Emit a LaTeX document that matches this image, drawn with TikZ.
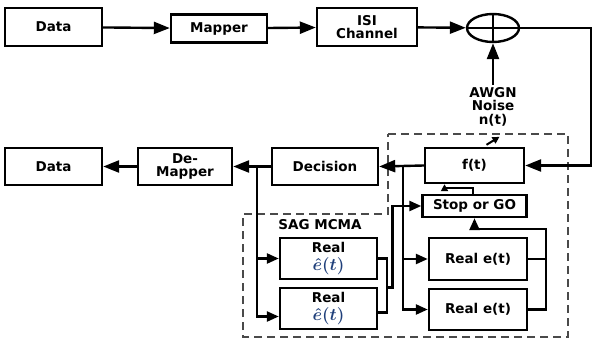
\documentclass[tikz,border=0pt]{standalone}
\usepackage{fontspec}
\setmainfont{DejaVu Sans}
\usetikzlibrary{arrows.meta,calc,shapes.geometric}
\definecolor{eqblue}{HTML}{1F3F7A}
\definecolor{dashgray}{HTML}{4A4A4A}
\newcommand{\ehat}{\textcolor{eqblue}{\fontsize{16}{16}\selectfont\boldmath$\hat{e}(t)$}}

\begin{document}
\begin{tikzpicture}[x=1pt,y=-1pt,
  box/.style={draw,line width=2.4pt,inner sep=1pt,align=center,font=\bfseries\fontsize{13.5}{13.5}\selectfont},
  lbl/.style={inner sep=2pt,align=center,font=\bfseries\fontsize{13.5}{13.5}\selectfont},
  wire/.style={line width=2.4pt},
  arr/.style={line width=2.4pt,-{Triangle[length=16pt,width=12pt]}},
  marr/.style={line width=2.4pt,-{Triangle[length=12pt,width=10pt]}},
  sarr/.style={line width=2pt,-{Triangle[length=7pt,width=7pt]}},
  dashbox/.style={dashgray,line width=1.5pt,dash pattern=on 8pt off 5pt}]
  \useasboundingbox (0,0) rectangle (595,340);

  \draw[dashbox] (388,134) -- (568,134) -- (568,337) -- (243,337) -- (243,214) -- (388,214) -- cycle;
  \node[lbl] (sag) at (320,225) {SAG MCMA};

  \node[box,minimum width=97pt,minimum height=38pt] (data1) at (53.5,27) {Data};
  \node[box,minimum width=96pt,minimum height=28pt] (mapper) at (219,28.5) {Mapper};
  \node[box,minimum width=100pt,minimum height=38pt] (isi) at (367,27) {ISI\\Channel};
  \node[draw,ellipse,line width=2.4pt,minimum width=52pt,minimum height=28pt,inner sep=0pt] (sum) at (493,28) {};
  \draw[wire] (sum.north) -- (sum.south) (sum.west) -- (sum.east);
  \node[lbl,anchor=north] (awgn) at (493,85) {AWGN\\Noise\\n(t)};

  \node[box,minimum width=97pt,minimum height=37pt] (data2) at (53.5,166.5) {Data};
  \node[box,minimum width=94pt,minimum height=37pt] (demap) at (185,166.5) {De-\\Mapper};
  \node[box,minimum width=106pt,minimum height=37pt] (decision) at (325,166.5) {Decision};
  \node[box,minimum width=99pt,minimum height=35pt] (ft) at (474.5,165.5) {f(t)};
  \node[box,minimum width=104pt,minimum height=22pt] (stop) at (474.5,206) {Stop or GO};

  \node[box,minimum width=97pt,minimum height=41pt] (rh1) at (328.5,258.5) {Real\\[4pt]\ehat};
  \node[box,minimum width=97pt,minimum height=41pt] (rh2) at (328.5,308.5) {Real\\[4pt]\ehat};
  \node[box,minimum width=98pt,minimum height=42pt] (re1) at (478,259) {Real e(t)};
  \node[box,minimum width=98pt,minimum height=41pt] (re2) at (478,309.5) {Real e(t)};

  \coordinate (jl) at ($(decision.west)+(-14,0)$);
  \coordinate (jr) at ($(ft.west)+(-21,0)$);
  \coordinate (mh) at ($(rh1.east)+(9,29)$);
  \coordinate (rr) at ($(re1.east)+(18,-30)$);

  \draw[arr] (data1) -- (mapper);
  \draw[arr] (mapper) -- (isi);
  \draw[arr] (isi) -- (sum);
  \draw[arr] (awgn.north) -- (sum.south);
  \draw[arr] (sum.east) -| ($(ft.east)+(66,0)$) -- (ft.east);

  \draw[arr] (ft.west) -- (decision.east);
  \draw[arr] (decision.west) -- (demap.east);
  \draw[arr] (demap.west) -- (data2.east);

  \draw[marr] (jl) |- (rh1.west);
  \draw[marr] (jl) |- ($(rh2.west)+(0,8)$);
  \draw[wire] (rh1.east) -| (mh);
  \draw[wire] ($(rh2.east)+(0,4)$) -| (mh);
  \draw[marr] (mh) -| ($(stop.west)+(-29,0)$) -- (stop.west);

  \draw[marr] (jr) |- (re1.west);
  \draw[marr] (jr) |- (re2.west);
  \draw[wire] (re1.east) -- (re1.east -| rr);
  \draw[marr] (re2.east) -| (rr) -| (stop.south);

  \draw[sarr] ($(stop.north)+(-2,0)$) -- ++(0,-6) -| ($(ft.south)+(-30,0)$);
  \draw[sarr] ($(ft.north)+(12,-2)$) -- ++(13,-8);
\end{tikzpicture}
\end{document}
